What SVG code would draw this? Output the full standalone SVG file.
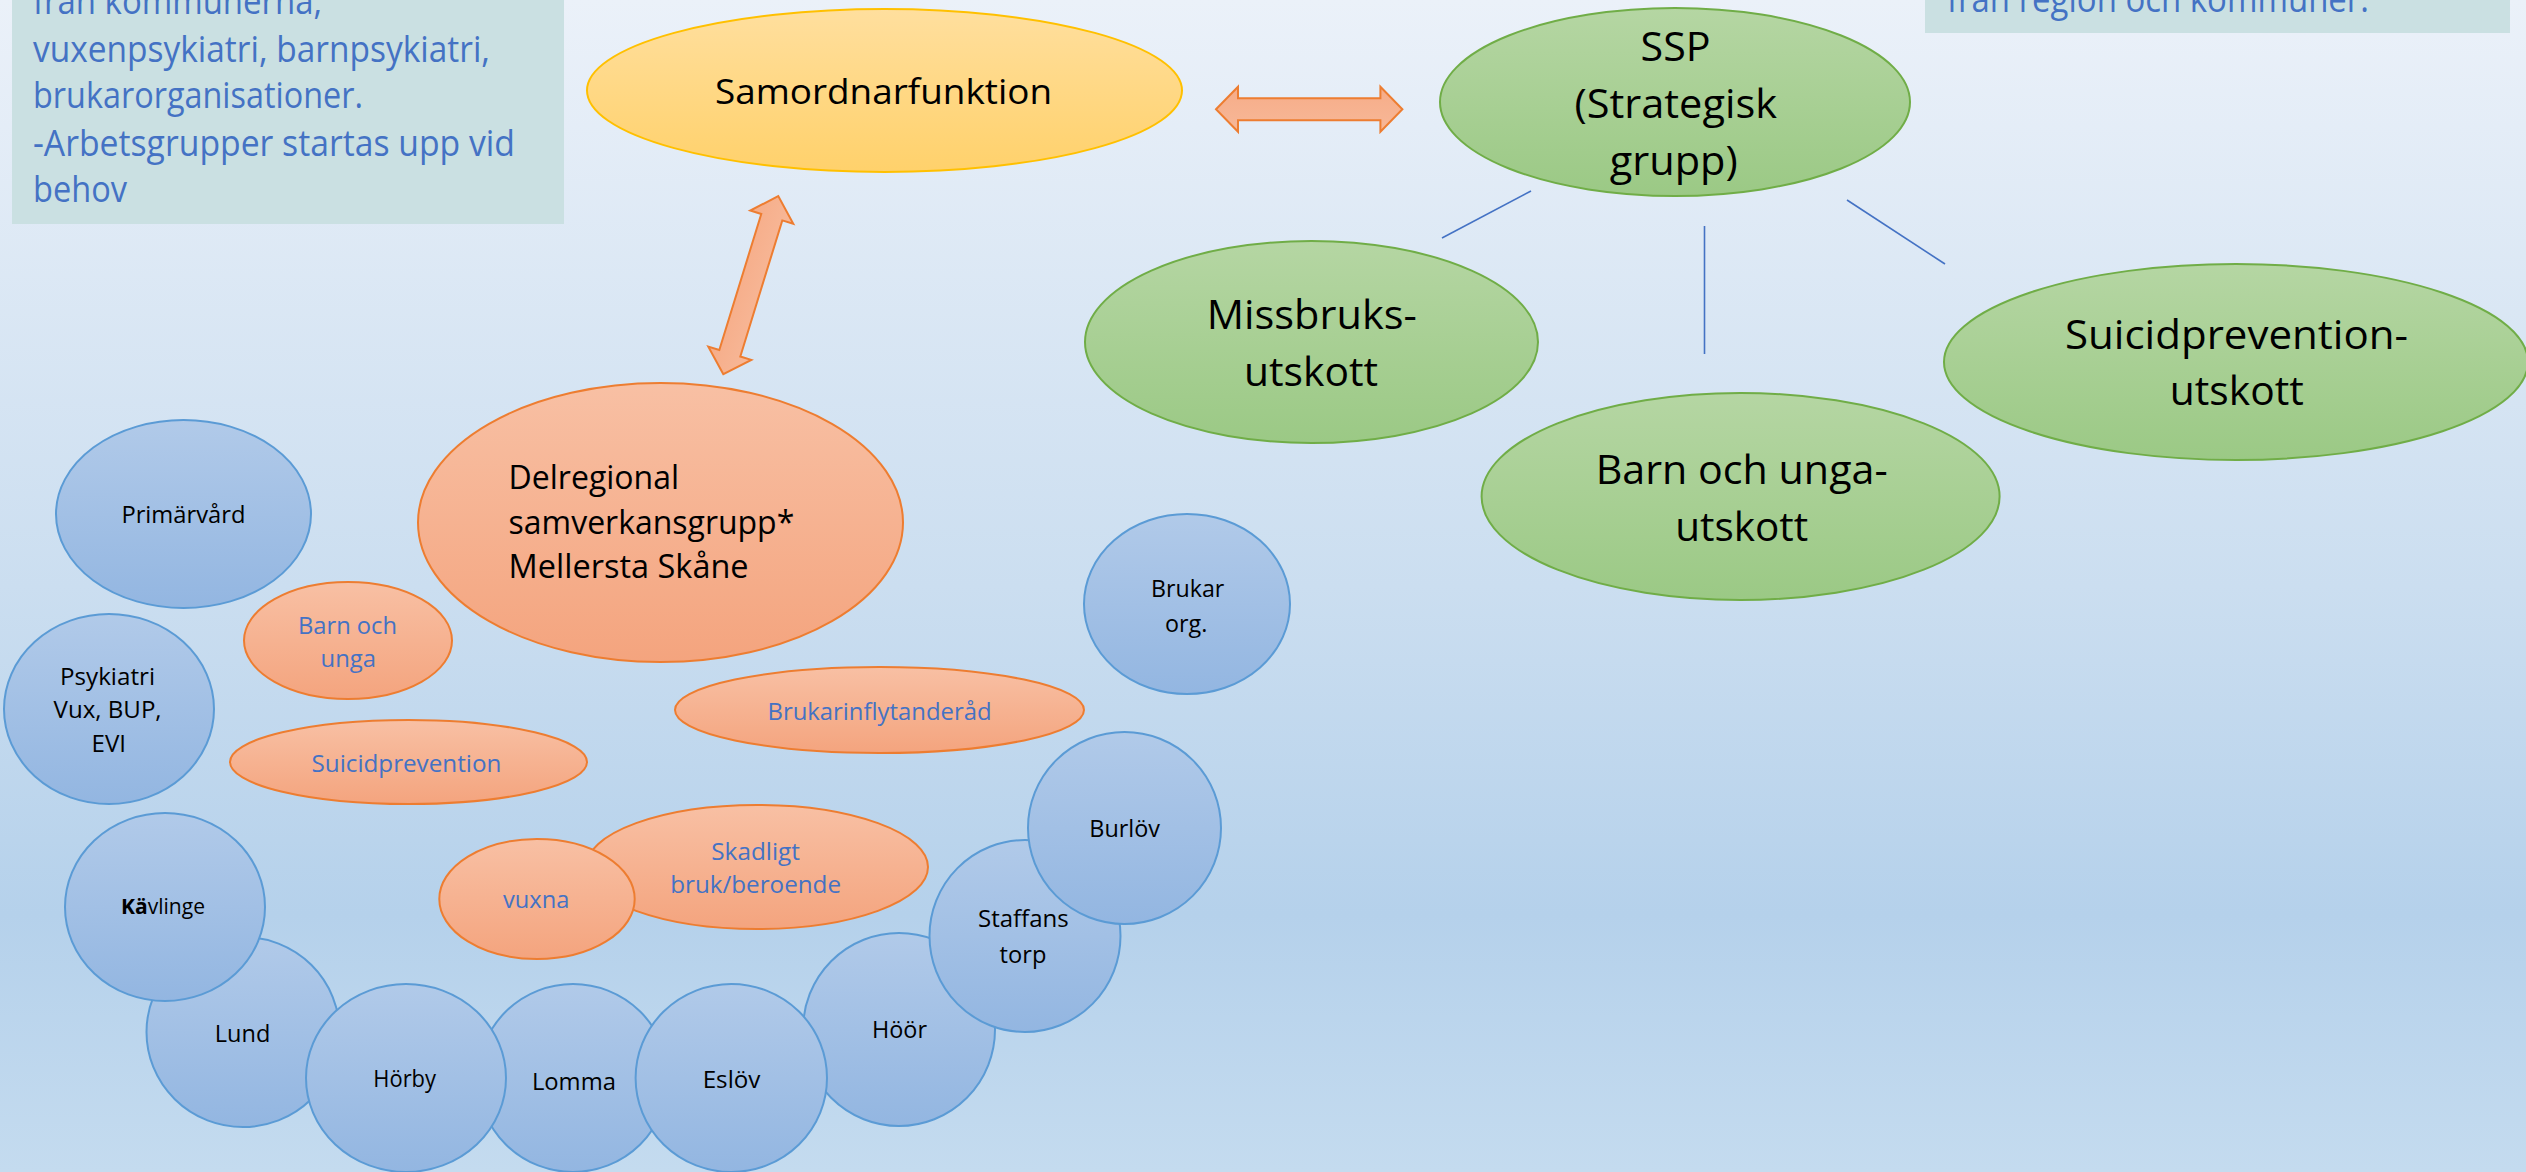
<svg xmlns="http://www.w3.org/2000/svg" xmlns:xlink="http://www.w3.org/1999/xlink" width="2526" height="1172" viewBox="0 0 2526 1172">
<defs>
<linearGradient id="bg" x1="0" y1="0" x2="0" y2="1">
<stop offset="0" stop-color="#EBF1F9"/>
<stop offset="0.5" stop-color="#CBDEF0"/>
<stop offset="0.78" stop-color="#B5D1EB"/>
<stop offset="1" stop-color="#C4DBEF"/>
</linearGradient>
<linearGradient id="gBlue" x1="0" y1="0" x2="0" y2="1">
<stop offset="0" stop-color="#B1CAE9"/>
<stop offset="1" stop-color="#93B6E1"/>
</linearGradient>
<linearGradient id="gGreen" x1="0" y1="0" x2="0" y2="1">
<stop offset="0" stop-color="#B5D6A3"/>
<stop offset="1" stop-color="#9BC985"/>
</linearGradient>
<linearGradient id="gOrange" x1="0" y1="0" x2="0" y2="1">
<stop offset="0" stop-color="#F8C0A4"/>
<stop offset="1" stop-color="#F4A47E"/>
</linearGradient>
<linearGradient id="gYellow" x1="0" y1="0" x2="0" y2="1">
<stop offset="0" stop-color="#FFDF9E"/>
<stop offset="1" stop-color="#FFD16B"/>
</linearGradient>
<linearGradient id="gArrow" x1="0" y1="0" x2="0" y2="1">
<stop offset="0" stop-color="#F6AC88"/>
<stop offset="1" stop-color="#F7B898"/>
</linearGradient>
<polygon id="dbl" points="-93.2,0 -71.2,-22.5 -71.2,-11 71.2,-11 71.2,-22.5 93.2,0 71.2,22.5 71.2,11 -71.2,11 -71.2,22.5"/>
<style>
.t{font-family:"Open Sans","Noto Sans","Liberation Sans",sans-serif;}
.blk{fill:#000;}
.blu{fill:#4472C4;}
.blue{fill:url(#gBlue);stroke:#5B9BD5;stroke-width:2;}
.green{fill:url(#gGreen);stroke:#70AD47;stroke-width:2;}
.orange{fill:url(#gOrange);stroke:#ED7D31;stroke-width:2;}
.yellow{fill:url(#gYellow);stroke:#FFC000;stroke-width:2;}
.arrow{fill:url(#gArrow);stroke:#ED7D31;stroke-width:2;stroke-linejoin:miter;}
.conn{stroke:#4472C4;stroke-width:1.6;fill:none;}
.box{fill:#CAE0E2;}
.f41{font-size:41px;}
.f35{font-size:35px;}
.f33{font-size:33px;}
.f36{font-size:36px;}
.f24{font-size:24px;}
.f21{font-size:21px;}
</style>
</defs>
<rect x="0" y="0" width="2526" height="1172" fill="url(#bg)"/>

<g id="infobox-left">
<rect class="box" x="12" y="-2" width="552" height="226"/>
<text class="t f36 blu" x="33" y="14" textLength="289" lengthAdjust="spacingAndGlyphs">från kommunerna,</text>
<text class="t f36 blu" x="33" y="62" textLength="457" lengthAdjust="spacingAndGlyphs">vuxenpsykiatri, barnpsykiatri,</text>
<text class="t f36 blu" x="33" y="108" textLength="330" lengthAdjust="spacingAndGlyphs">brukarorganisationer.</text>
<text class="t f36 blu" x="33" y="156" textLength="482" lengthAdjust="spacingAndGlyphs">-Arbetsgrupper startas upp vid</text>
<text class="t f36 blu" x="33" y="202" textLength="94" lengthAdjust="spacingAndGlyphs">behov</text>
</g>

<g id="infobox-right">
<rect class="box" x="1925" y="-2" width="585" height="35"/>
<text class="t f36 blu" x="1947" y="12" textLength="422" lengthAdjust="spacingAndGlyphs">från region och kommuner.</text>
</g>

<g id="connectors">
<use href="#dbl" class="arrow" transform="translate(1309.2 109.3)"/>
<use href="#dbl" class="arrow" transform="translate(750.8 285.2) rotate(-72.86)"/>
<line class="conn" x1="1531" y1="191" x2="1442" y2="238"/>
<line class="conn" x1="1704.5" y1="226" x2="1704.5" y2="354"/>
<line class="conn" x1="1847" y1="200" x2="1945" y2="264"/>
</g>

<g id="samordnarfunktion">
<ellipse class="yellow" cx="884.5" cy="90.5" rx="297.5" ry="81.5"/>
<text class="t f35 blk" x="715" y="104" textLength="337" lengthAdjust="spacingAndGlyphs">Samordnarfunktion</text>
</g>

<g id="ssp">
<ellipse class="green" cx="1675" cy="102" rx="235" ry="94"/>
<text class="t f41 blk" x="1640.6" y="61" textLength="70" lengthAdjust="spacingAndGlyphs">SSP</text>
<text class="t f41 blk" x="1574.5" y="118" textLength="202.5" lengthAdjust="spacingAndGlyphs">(Strategisk</text>
<text class="t f41 blk" x="1609.7" y="175" textLength="128" lengthAdjust="spacingAndGlyphs">grupp)</text>
</g>

<g id="missbruksutskott">
<ellipse class="green" cx="1311.5" cy="342" rx="226.5" ry="101"/>
<text class="t f41 blk" x="1206.8" y="329" textLength="210" lengthAdjust="spacingAndGlyphs">Missbruks-</text>
<text class="t f41 blk" x="1244" y="386" textLength="134" lengthAdjust="spacingAndGlyphs">utskott</text>
</g>

<g id="barn-och-unga-utskott">
<ellipse class="green" cx="1740.6" cy="496.5" rx="259" ry="103.5"/>
<text class="t f41 blk" x="1595.7" y="484" textLength="292" lengthAdjust="spacingAndGlyphs">Barn och unga-</text>
<text class="t f41 blk" x="1675.2" y="541" textLength="133" lengthAdjust="spacingAndGlyphs">utskott</text>
</g>

<g id="suicidprevention-utskott">
<ellipse class="green" cx="2236" cy="362" rx="292" ry="98"/>
<text class="t f41 blk" x="2065" y="349" textLength="343" lengthAdjust="spacingAndGlyphs">Suicidprevention-</text>
<text class="t f41 blk" x="2169.8" y="405" textLength="134" lengthAdjust="spacingAndGlyphs">utskott</text>
</g>

<g id="delregional">
<ellipse class="orange" cx="660.5" cy="522.5" rx="242.5" ry="139.5"/>
<text class="t f33 blk" x="508.6" y="489" textLength="170.5" lengthAdjust="spacingAndGlyphs">Delregional</text>
<text class="t f33 blk" x="508.6" y="534" textLength="285.7" lengthAdjust="spacingAndGlyphs">samverkansgrupp*</text>
<text class="t f33 blk" x="508.6" y="578" textLength="240" lengthAdjust="spacingAndGlyphs">Mellersta Skåne</text>
</g>

<g id="primarvard">
<ellipse class="blue" cx="183.5" cy="514" rx="127.5" ry="94"/>
<text class="t f24 blk" x="121.4" y="523" textLength="124" lengthAdjust="spacingAndGlyphs">Primärvård</text>
</g>

<g id="barn-och-unga">
<ellipse class="orange" cx="348" cy="640.5" rx="104" ry="58.5"/>
<text class="t f24 blu" x="298" y="634" textLength="99" lengthAdjust="spacingAndGlyphs">Barn och</text>
<text class="t f24 blu" x="320.5" y="667" textLength="55.5" lengthAdjust="spacingAndGlyphs">unga</text>
</g>

<g id="psykiatri">
<ellipse class="blue" cx="109" cy="709" rx="105" ry="95"/>
<text class="t f24 blk" x="60" y="685" textLength="95" lengthAdjust="spacingAndGlyphs">Psykiatri</text>
<text class="t f24 blk" x="53.6" y="718" textLength="108" lengthAdjust="spacingAndGlyphs">Vux, BUP,</text>
<text class="t f24 blk" x="91.5" y="752" textLength="34.5" lengthAdjust="spacingAndGlyphs">EVI</text>
</g>

<g id="suicidprevention">
<ellipse class="orange" cx="408.5" cy="762" rx="178.5" ry="42"/>
<text class="t f24 blu" x="311.6" y="772" textLength="189.7" lengthAdjust="spacingAndGlyphs">Suicidprevention</text>
</g>

<g id="brukarinflytanderad">
<ellipse class="orange" cx="879.5" cy="710" rx="204.5" ry="43"/>
<text class="t f24 blu" x="767.5" y="720" textLength="224" lengthAdjust="spacingAndGlyphs">Brukarinflytanderåd</text>
</g>

<g id="brukar-org">
<ellipse class="blue" cx="1187" cy="604" rx="103" ry="90"/>
<text class="t f24 blk" x="1151" y="597" textLength="73.3" lengthAdjust="spacingAndGlyphs">Brukar</text>
<text class="t f24 blk" x="1165" y="632" textLength="42.3" lengthAdjust="spacingAndGlyphs">org.</text>
</g>

<g id="skadligt-bruk">
<ellipse class="orange" cx="757" cy="867" rx="171" ry="62"/>
<text class="t f24 blu" x="711.3" y="860" textLength="88.6" lengthAdjust="spacingAndGlyphs">Skadligt</text>
<text class="t f24 blu" x="670.2" y="893" textLength="170.8" lengthAdjust="spacingAndGlyphs">bruk/beroende</text>
</g>

<g id="vuxna">
<ellipse class="orange" cx="537" cy="899" rx="97.7" ry="60"/>
<text class="t f24 blu" x="503" y="907.7" textLength="66.3" lengthAdjust="spacingAndGlyphs">vuxna</text>
</g>

<g id="lund">
<ellipse class="blue" cx="243" cy="1032" rx="96.5" ry="95"/>
<text class="t f24 blk" x="214.8" y="1042" textLength="55.5" lengthAdjust="spacingAndGlyphs">Lund</text>
</g>

<g id="kavlinge">
<ellipse class="blue" cx="165" cy="907" rx="100" ry="94"/>
<text class="t f21 blk" x="121" y="914" textLength="84" lengthAdjust="spacingAndGlyphs"><tspan font-weight="bold">Kä</tspan>vlinge</text>
</g>

<g id="lomma">
<ellipse class="blue" cx="573" cy="1078" rx="95" ry="94"/>
<text class="t f24 blk" x="531.9" y="1090" textLength="84" lengthAdjust="spacingAndGlyphs">Lomma</text>
</g>

<g id="horby">
<ellipse class="blue" cx="406" cy="1078" rx="100" ry="94"/>
<text class="t f24 blk" x="373.3" y="1087" textLength="62.7" lengthAdjust="spacingAndGlyphs">Hörby</text>
</g>

<g id="hoor">
<ellipse class="blue" cx="899" cy="1029.5" rx="96" ry="96.5"/>
<text class="t f24 blk" x="872" y="1038" textLength="55" lengthAdjust="spacingAndGlyphs">Höör</text>
</g>

<g id="eslov">
<ellipse class="blue" cx="731.3" cy="1078" rx="95.7" ry="94"/>
<text class="t f24 blk" x="702.7" y="1088" textLength="57.7" lengthAdjust="spacingAndGlyphs">Eslöv</text>
</g>

<g id="staffanstorp">
<ellipse class="blue" cx="1025" cy="936" rx="95.5" ry="96"/>
<text class="t f24 blk" x="978" y="927" textLength="90.8" lengthAdjust="spacingAndGlyphs">Staffans</text>
<text class="t f24 blk" x="999.6" y="963" textLength="46.8" lengthAdjust="spacingAndGlyphs">torp</text>
</g>

<g id="burlov">
<ellipse class="blue" cx="1124.5" cy="828" rx="96.5" ry="96"/>
<text class="t f24 blk" x="1089.3" y="837" textLength="70.7" lengthAdjust="spacingAndGlyphs">Burlöv</text>
</g>
</svg>
